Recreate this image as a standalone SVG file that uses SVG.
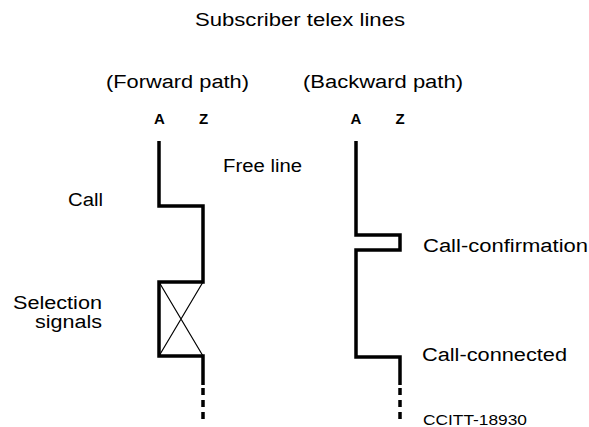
<svg xmlns="http://www.w3.org/2000/svg" width="589" height="427" viewBox="0 0 589 427">
<style>
text{font-family:"Liberation Sans","Arial",sans-serif;fill:#000}
.t{font-size:18px}
.b{font-size:15px;font-weight:bold;text-anchor:middle}
.s{font-size:15px}
.line{fill:none;stroke:#000;stroke-width:3.5;stroke-linejoin:miter;stroke-linecap:butt}
.dash{fill:none;stroke:#000;stroke-width:3.5;stroke-dasharray:7 5}
.thin{fill:none;stroke:#000;stroke-width:1.2}
</style>
<rect width="589" height="427" fill="#fff"/>
<g id="titles">
<text class="t" x="195" y="26" textLength="210" lengthAdjust="spacingAndGlyphs">Subscriber telex lines</text>
<text class="t" x="106" y="88" textLength="143" lengthAdjust="spacingAndGlyphs">(Forward path)</text>
<text class="t" x="303" y="88" textLength="160" lengthAdjust="spacingAndGlyphs">(Backward path)</text>
<text class="b" x="159.5" y="124">A</text>
<text class="b" x="203.5" y="124">Z</text>
<text class="b" x="356" y="124">A</text>
<text class="b" x="400" y="124">Z</text>
</g>
<g id="forward">
<path class="line" d="M159,141 V206 H203 V282 H159 V356 H203 V385"/>
<path class="dash" d="M203,388 V422"/>
<path class="thin" d="M159,282 L203,356 M203,282 L159,356"/>
</g>
<g id="backward">
<path class="line" d="M356,141 V235 H400 V250 H356 V357 H400 V385"/>
<path class="dash" d="M400,388 V422"/>
</g>
<g id="labels">
<text class="t" x="223" y="172" textLength="79" lengthAdjust="spacingAndGlyphs">Free line</text>
<text class="t" x="68" y="206" textLength="35" lengthAdjust="spacingAndGlyphs">Call</text>
<text class="t" x="13" y="309" textLength="89" lengthAdjust="spacingAndGlyphs">Selection</text>
<text class="t" x="35" y="328" textLength="67" lengthAdjust="spacingAndGlyphs">signals</text>
<text class="t" x="423" y="252" textLength="165" lengthAdjust="spacingAndGlyphs">Call-confirmation</text>
<text class="t" x="422" y="361" textLength="145" lengthAdjust="spacingAndGlyphs">Call-connected</text>
<text class="s" x="423" y="425" textLength="104" lengthAdjust="spacingAndGlyphs">CCITT-18930</text>
</g>
</svg>
